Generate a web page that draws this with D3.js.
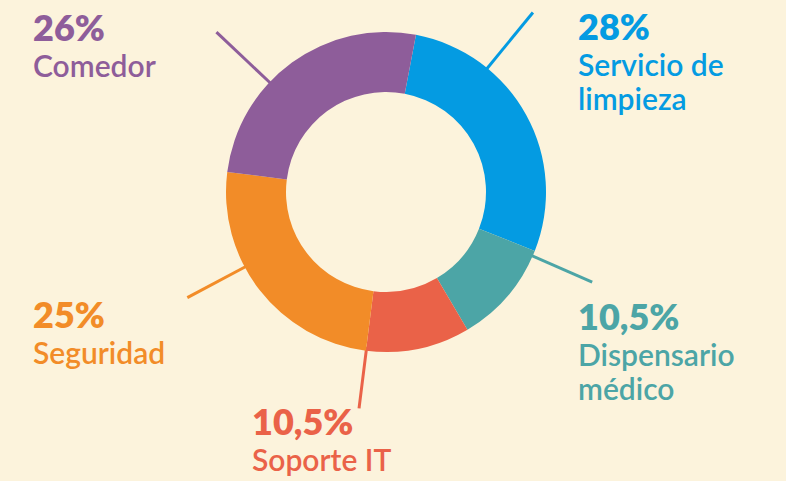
<!DOCTYPE html>
<html>
<head>
<meta charset="utf-8">
<script src="https://cdn.jsdelivr.net/npm/d3@7/dist/d3.min.js"></script>
<style>
  html, body { margin: 0; padding: 0; background: #FCF3DC; }
  svg { display: block; }
  text { font-family: "Lato", "Open Sans", sans-serif; }
</style>
</head>
<body>
<svg id="chart" width="786" height="481"></svg>
<script>
// ---- data ----
const categories = ["Servicio de limpieza", "Dispensario médico", "Soporte IT", "Seguridad", "Comedor"];
const labelLines = [["Servicio de", "limpieza"], ["Dispensario", "médico"], ["Soporte IT"], ["Seguridad"], ["Comedor"]];
const values = [28, 10.5, 10.5, 25, 26];
const valueLabels = ["28%", "10,5%", "10,5%", "25%", "26%"];

// ---- styles / layout ----
const colors = ["#049BE2", "#4CA5A6", "#EA6248", "#F28C28", "#8E5D9A"];
const W = 786, H = 481;
const cx = 386, cy = 192, rOuter = 160, rInner = 100;
const startDeg = 10.8;
// leader lines: angle (deg, clockwise from top), outer end radius
const leaders = [
  { a: 39.3, r1: 232 },
  { a: 113.6, r1: 225 },
  { a: 187.1, r1: 218 },
  { a: 242.0, r1: 225 },
  { a: 313.3, r1: 233 }
];
// label anchors: x (left), baseline y of percentage
const labelPos = [
  { x: 578, y: 40 },
  { x: 578, y: 330 },
  { x: 252, y: 435 },
  { x: 33, y: 328 },
  { x: 33, y: 41 }
];

const svg = d3.select("#chart");
svg.append("rect").attr("width", W).attr("height", H).attr("fill", "#FCF3DC");

const g = svg.append("g").attr("transform", `translate(${cx},${cy})`);
const rad = d => d * Math.PI / 180;

const pie = d3.pie().sort(null).value(d => d)
  .startAngle(rad(startDeg)).endAngle(rad(startDeg) + 2 * Math.PI);
const arcs = pie(values);
const arc = d3.arc().innerRadius(rInner).outerRadius(rOuter);

// leader lines (behind donut)
g.selectAll("line.leader").data(leaders).enter().append("line")
  .attr("class", "leader")
  .attr("x1", d => d3.pointRadial(rad(d.a), rOuter - 4)[0])
  .attr("y1", d => d3.pointRadial(rad(d.a), rOuter - 4)[1])
  .attr("x2", d => d3.pointRadial(rad(d.a), d.r1)[0])
  .attr("y2", d => d3.pointRadial(rad(d.a), d.r1)[1])
  .attr("stroke", (d, i) => colors[i])
  .attr("stroke-width", 3);

g.selectAll("path.slice").data(arcs).enter().append("path")
  .attr("class", "slice")
  .attr("d", arc)
  .attr("fill", (d, i) => colors[i]);

// labels
const lbl = svg.selectAll("g.label").data(categories).enter().append("g")
  .attr("class", "label")
  .attr("transform", (d, i) => `translate(${labelPos[i].x},${labelPos[i].y})`)
  .attr("fill", (d, i) => colors[i]);

lbl.append("text")
  .attr("x", 0).attr("y", 0)
  .attr("font-size", 36)
  .attr("font-weight", 800)
  .text((d, i) => valueLabels[i]);

lbl.each(function (d, i) {
  const sel = d3.select(this);
  labelLines[i].forEach((line, j) => {
    sel.append("text")
      .attr("x", 0)
      .attr("y", 36 + j * 34)
      .attr("font-size", 30)
      .attr("font-weight", 600)
      .text(line);
  });
});
</script>
</body>
</html>
